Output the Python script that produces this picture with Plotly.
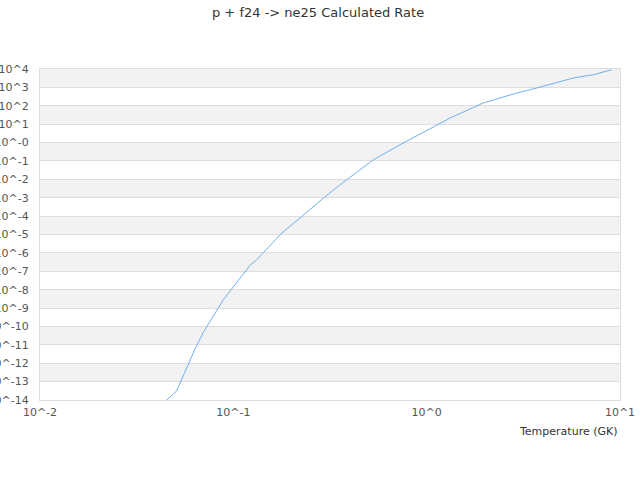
import plotly.graph_objects as go

# temperature (GK) and rate
temperature = [0.040, 0.0509, 0.0633, 0.0699, 0.0887, 0.122, 0.132, 0.178, 0.221,
               0.292, 0.364, 0.530, 0.728, 1.02, 1.17, 1.32, 1.96, 2.92,
               3.71, 4.71, 5.73, 7.28, 9.06]
rate = [3.0e-15, 3.1e-14, 5.9e-12, 4.7e-11, 2.8e-9, 2.1e-7, 4.2e-7, 1.2e-5, 7.8e-5,
        9.5e-4, 6.0e-3, 0.115, 0.76, 5.0, 11.5, 21.5, 141, 492,
        925, 1860, 3240, 4900, 9100]

y_exps = list(range(-14, 5))
y_labels = ['10^-14', '10^-13', '10^-12', '10^-11', '10^-10', '10^-9', '10^-8',
            '10^-7', '10^-6', '10^-5', '10^-4', '10^-3', '10^-2', '10^-1',
            '10^-0', '10^1', '10^2', '10^3', '10^4']
x_exps = [-2, -1, 0, 1]
x_labels = ['10^-2', '10^-1', '10^0', '10^1']

fig = go.Figure()
fig.add_trace(go.Scatter(x=temperature, y=rate, mode='lines',
                         line=dict(color='#6eb0f0', width=1), showlegend=False))

# alternating bands, drawn on a hidden linear axis that mirrors the log one
shapes = []
for k in range(y_exps[0], y_exps[-1]):
    if (y_exps[-1] - k) % 2 == 1:
        shapes.append(dict(type='rect', xref='paper', yref='y2', x0=0, x1=1,
                           y0=k, y1=k + 1, fillcolor='#f2f2f2', line_width=0,
                           layer='below'))

fig.update_layout(
    width=640, height=480,
    margin=dict(l=40, r=20, t=69, b=80, autoexpand=False),
    paper_bgcolor='white', plot_bgcolor='white',
    font=dict(family='DejaVu Sans', size=11, color='#555555'),
    title=dict(text='p + f24 -> ne25 Calculated Rate', x=0.497, xanchor='center',
               yref='container', y=1 - 12 / 480, yanchor='middle',
               font=dict(size=13, color='#333333')),
    shapes=shapes,
    xaxis=dict(type='log', range=[-2, 1], tickvals=[10 ** e for e in x_exps],
               ticktext=x_labels, showgrid=False, zeroline=False,
               showline=True, linecolor='#dddddd', mirror=True, ticks='',
               ticklabelstandoff=2, automargin=False),
    yaxis=dict(type='log', range=[-14, 4], tickvals=[10.0 ** e for e in y_exps],
               ticktext=y_labels, showgrid=True, gridcolor='#dddddd',
               zeroline=False, showline=True, linecolor='#dddddd', mirror=True,
               ticks='', ticklabelstandoff=8, automargin=False),
    yaxis2=dict(overlaying='y', range=[-14, 4], visible=False, fixedrange=True,
                automargin=False),
    annotations=[dict(text='Temperature (GK)', xref='paper', yref='paper',
                      x=1, xanchor='right', y=-0.094, yanchor='middle',
                      showarrow=False, font=dict(size=11, color='#333333'))],
)

# drop the default body margin so the figure sits at the window's corner
fig.write_html("out.html", config={'displayModeBar': False},
               post_script="document.body.style.margin='0';document.body.style.overflow='hidden';")
